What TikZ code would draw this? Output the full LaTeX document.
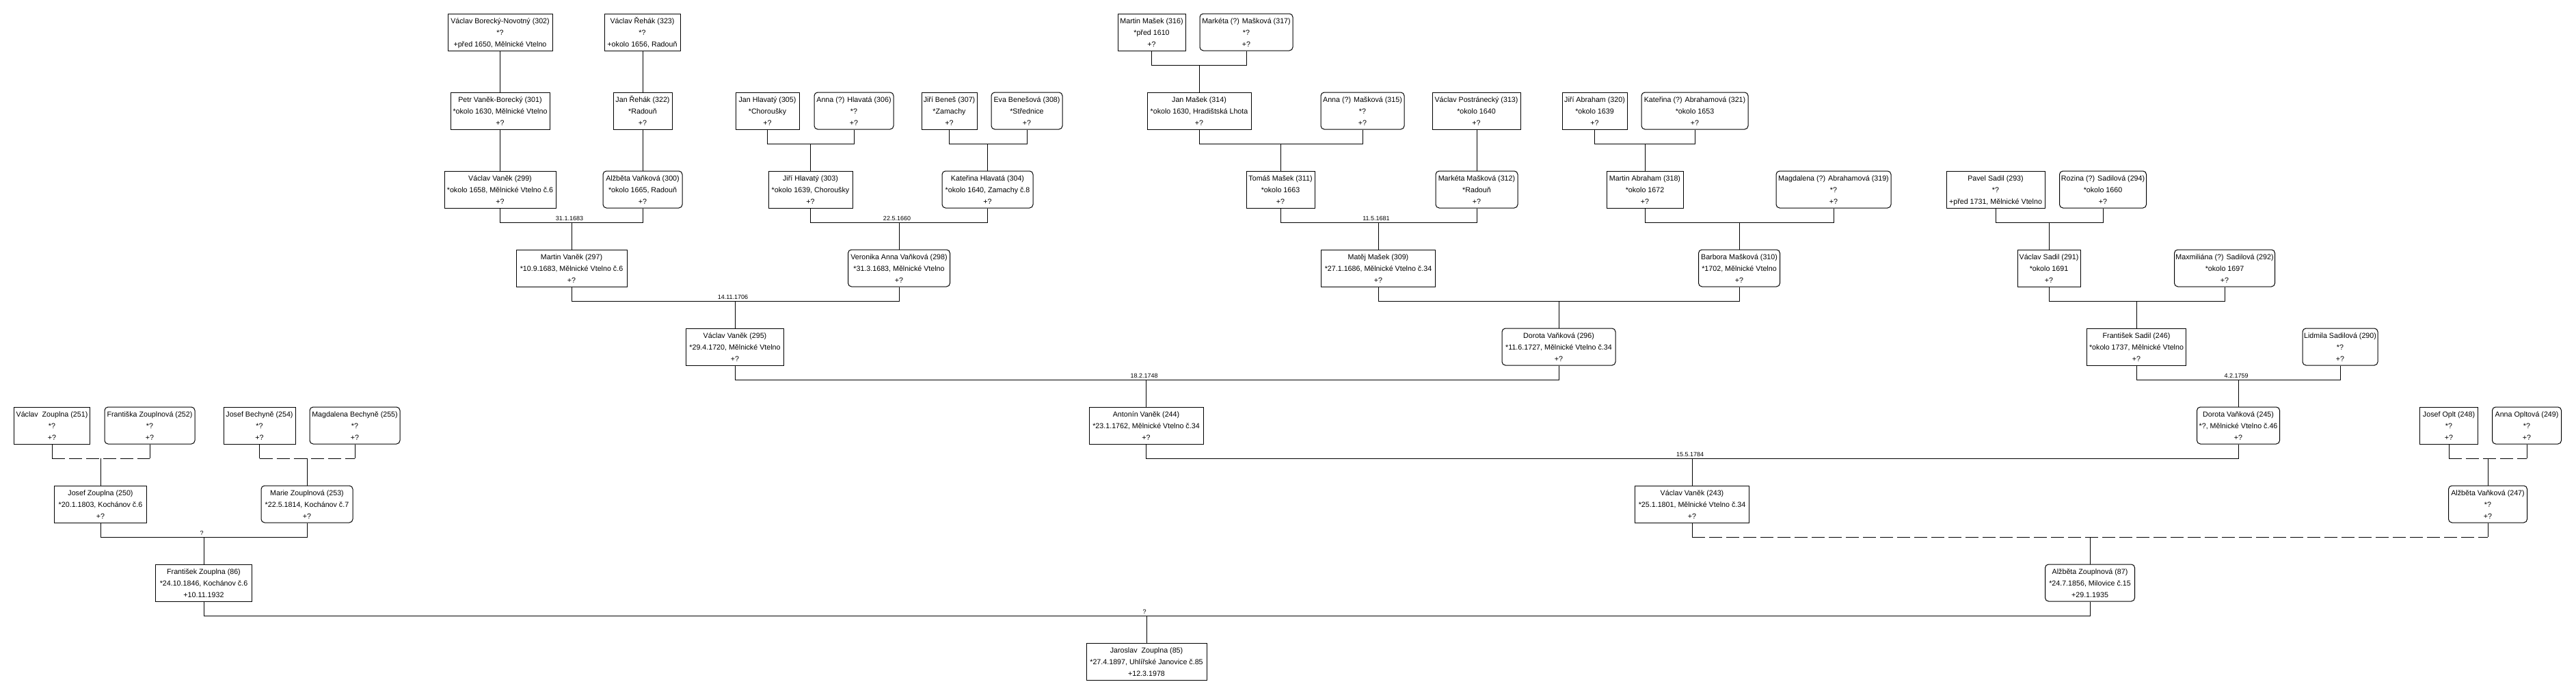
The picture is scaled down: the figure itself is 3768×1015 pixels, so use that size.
\documentclass[tikz,border=0pt]{standalone}
\usepackage{fontspec}
\setmainfont{Liberation Sans}
\newcommand\pers[3]{\rule{0pt}{11.5pt}#1\\#2\\#3\rule[-3pt]{0pt}{3pt}}
\tikzset{
  box/.style={draw, line width=1pt, minimum height=54pt, inner sep=0pt, align=center,
    font=\fontsize{10.7pt}{17pt}\selectfont},
  male/.style={box},
  female/.style={box, rounded corners=5pt},
  conn/.style={line width=1pt},
  unk/.style={line width=1pt, dash pattern=on 19pt off 6pt},
  lbl/.style={font=\fontsize{9pt}{10pt}\selectfont, anchor=base, inner sep=0pt, yshift=2.5pt, xshift=-3pt}
}
% solid couple
\newcommand\couple[4]{%
  \draw[conn] (#1.south) -- (#1.south |- #4) -- (#2.south |- #4) -- (#2.south);
  \draw[conn] (#3.north) -- (#3.north |- #4);}
% couple with unknown marriage: solid verticals, dashed horizontal
\newcommand\ucouple[4]{%
  \draw[conn] (#1.south) -- (#1.south |- #4);
  \draw[conn] (#2.south) -- (#2.south |- #4);
  \draw[unk] (#1.south |- #4) -- (#2.south |- #4);
  \draw[conn] (#3.north) -- (#3.north |- #4);}
\newcommand\single[2]{\draw[conn] (#2.north) -- (#2.north |- #1.south);}
\begin{document}
\begin{tikzpicture}[x=1pt, y=-1pt]
\useasboundingbox[fill=white] (0,0) rectangle (3768,1015);
% join rows
\coordinate (j95) at (0,95);
\coordinate (j210) at (0,210);
\coordinate (j325) at (0,325);
\coordinate (j440) at (0,440);
\coordinate (j555) at (0,555);
\coordinate (j670) at (0,670);
\coordinate (j785) at (0,785);
\coordinate (j900) at (0,900);
% Row A
\node[male, minimum width=153pt] (n302) at (731.5,47) {\pers{Václav Borecký-Novotný (302)}{*?}{+před 1650, Mělnické Vtelno}};
\node[male, minimum width=111pt] (n323) at (939.5,47) {\pers{Václav Řehák (323)}{*?}{+okolo 1656, Radouň}};
\node[male, minimum width=99pt] (n316) at (1684.5,47) {\pers{Martin Mašek (316)}{*před 1610}{+?}};
\node[female, minimum width=136pt] (n317) at (1823,47) {\pers{Markéta (?) Mašková (317)}{*?}{+?}};
% Row B
\node[male, minimum width=145pt] (n301) at (731.5,162) {\pers{Petr Vaněk-Borecký (301)}{*okolo 1630, Mělnické Vtelno}{+?}};
\node[male, minimum width=86pt] (n322) at (940,162) {\pers{Jan Řehák (322)}{*Radouň}{+?}};
\node[male, minimum width=93pt] (n305) at (1122.5,162) {\pers{Jan Hlavatý (305)}{*Choroušky}{+?}};
\node[female, minimum width=116pt] (n306) at (1249,162) {\pers{Anna (?) Hlavatá (306)}{*?}{+?}};
\node[male, minimum width=81pt] (n307) at (1388.5,162) {\pers{Jiří Beneš (307)}{*Zamachy}{+?}};
\node[female, minimum width=104pt] (n308) at (1502,162) {\pers{Eva Benešová (308)}{*Střednice}{+?}};
\node[male, minimum width=152pt] (n314) at (1754,162) {\pers{Jan Mašek (314)}{*okolo 1630, Hradištská Lhota}{+?}};
\node[female, minimum width=122pt] (n315) at (1993,162) {\pers{Anna (?) Mašková (315)}{*?}{+?}};
\node[male, minimum width=129pt] (n313) at (2159.5,162) {\pers{Václav Postránecký (313)}{*okolo 1640}{+?}};
\node[male, minimum width=95pt] (n320) at (2332.5,162) {\pers{Jiří Abraham (320)}{*okolo 1639}{+?}};
\node[female, minimum width=156pt] (n321) at (2479,162) {\pers{Kateřina (?) Abrahamová (321)}{*okolo 1653}{+?}};
% Row C
\node[male, minimum width=163pt] (n299) at (731.5,277) {\pers{Václav Vaněk (299)}{*okolo 1658, Mělnické Vtelno č.6}{+?}};
\node[female, minimum width=116pt] (n300) at (940,277) {\pers{Alžběta Vaňková (300)}{*okolo 1665, Radouň}{+?}};
\node[male, minimum width=123pt] (n303) at (1185.5,277) {\pers{Jiří Hlavatý (303)}{*okolo 1639, Choroušky}{+?}};
\node[female, minimum width=133pt] (n304) at (1444.5,277) {\pers{Kateřina Hlavatá (304)}{*okolo 1640, Zamachy č.8}{+?}};
\node[male, minimum width=100pt] (n311) at (1873,277) {\pers{Tomáš Mašek (311)}{*okolo 1663}{+?}};
\node[female, minimum width=120pt] (n312) at (2160,277) {\pers{Markéta Mašková (312)}{*Radouň}{+?}};
\node[male, minimum width=112pt] (n318) at (2406,277) {\pers{Martin Abraham (318)}{*okolo 1672}{+?}};
\node[female, minimum width=168pt] (n319) at (2682,277) {\pers{Magdalena (?) Abrahamová (319)}{*?}{+?}};
\node[male, minimum width=144pt] (n293) at (2919,277) {\pers{Pavel Sadil (293)}{*?}{+před 1731, Mělnické Vtelno}};
\node[female, minimum width=127pt] (n294) at (3076,277) {\pers{Rozina (?) Sadilová (294)}{*okolo 1660}{+?}};
% Row D
\node[male, minimum width=162pt] (n297) at (836,392) {\pers{Martin Vaněk (297)}{*10.9.1683, Mělnické Vtelno č.6}{+?}};
\node[female, minimum width=149pt] (n298) at (1315,392) {\pers{Veronika Anna Vaňková (298)}{*31.3.1683, Mělnické Vtelno}{+?}};
\node[male, minimum width=167pt] (n309) at (2016,392) {\pers{Matěj Mašek (309)}{*27.1.1686, Mělnické Vtelno č.34}{+?}};
\node[female, minimum width=119pt] (n310) at (2544,392) {\pers{Barbora Mašková (310)}{*1702, Mělnické Vtelno}{+?}};
\node[male, minimum width=92pt] (n291) at (2997,392) {\pers{Václav Sadil (291)}{*okolo 1691}{+?}};
\node[female, minimum width=147pt] (n292) at (3254,392) {\pers{Maxmiliána (?) Sadilová (292)}{*okolo 1697}{+?}};
% Row E
\node[male, minimum width=143pt] (n295) at (1075,507) {\pers{Václav Vaněk (295)}{*29.4.1720, Mělnické Vtelno}{+?}};
\node[female, minimum width=166pt] (n296) at (2280,507) {\pers{Dorota Vaňková (296)}{*11.6.1727, Mělnické Vtelno č.34}{+?}};
\node[male, minimum width=145pt] (n246) at (3125,507) {\pers{František Sadil (246)}{*okolo 1737, Mělnické Vtelno}{+?}};
\node[female, minimum width=110pt] (n290) at (3423,507) {\pers{Lidmila Sadilová (290)}{*?}{+?}};
% Row F
\node[male, minimum width=111pt] (n251) at (76,622) {\pers{Václav\ \ Zouplna (251)}{*?}{+?}};
\node[female, minimum width=132pt] (n252) at (219,622) {\pers{Františka Zouplnová (252)}{*?}{+?}};
\node[male, minimum width=105pt] (n254) at (379.5,622) {\pers{Josef Bechyně (254)}{*?}{+?}};
\node[female, minimum width=132pt] (n255) at (519,622) {\pers{Magdalena Bechyně (255)}{*?}{+?}};
\node[male, minimum width=167pt] (n244) at (1676.5,622) {\pers{Antonín Vaněk (244)}{*23.1.1762, Mělnické Vtelno č.34}{+?}};
\node[female, minimum width=121pt] (n245) at (3274,622) {\pers{Dorota Vaňková (245)}{*?, Mělnické Vtelno č.46}{+?}};
\node[male, minimum width=85pt] (n248) at (3582,622) {\pers{Josef Oplt (248)}{*?}{+?}};
\node[female, minimum width=101pt] (n249) at (3696,622) {\pers{Anna Opltová (249)}{*?}{+?}};
% Row G
\node[male, minimum width=135pt] (n250) at (147,737) {\pers{Josef Zouplna (250)}{*20.1.1803, Kochánov č.6}{+?}};
\node[female, minimum width=134pt] (n253) at (449,737) {\pers{Marie Zouplnová (253)}{*22.5.1814, Kochánov č.7}{+?}};
\node[male, minimum width=167pt] (n243) at (2475,737) {\pers{Václav Vaněk (243)}{*25.1.1801, Mělnické Vtelno č.34}{+?}};
\node[female, minimum width=115pt] (n247) at (3639,737) {\pers{Alžběta Vaňková (247)}{*?}{+?}};
% Row H
\node[male, minimum width=141pt] (n86) at (298,852) {\pers{František Zouplna (86)}{*24.10.1846, Kochánov č.6}{+10.11.1932}};
\node[female, minimum width=131pt] (n87) at (3057,852) {\pers{Alžběta Zouplnová (87)}{*24.7.1856, Milovice č.15}{+29.1.1935}};
% Row I
\node[male, minimum width=176pt] (n85) at (1677,967) {\pers{Jaroslav\ \ Zouplna (85)}{*27.4.1897, Uhlířské Janovice č.85}{+12.3.1978}};

% single-parent lines
\single{n302}{n301}
\single{n301}{n299}
\single{n323}{n322}
\single{n322}{n300}
\single{n313}{n312}
% couples
\couple{n316}{n317}{n314}{j95}
\couple{n305}{n306}{n303}{j210}
\couple{n307}{n308}{n304}{j210}
\couple{n314}{n315}{n311}{j210}
\couple{n320}{n321}{n318}{j210}
\couple{n299}{n300}{n297}{j325}
\couple{n303}{n304}{n298}{j325}
\couple{n311}{n312}{n309}{j325}
\couple{n318}{n319}{n310}{j325}
\couple{n293}{n294}{n291}{j325}
\couple{n297}{n298}{n295}{j440}
\couple{n309}{n310}{n296}{j440}
\couple{n291}{n292}{n246}{j440}
\couple{n295}{n296}{n244}{j555}
\couple{n246}{n290}{n245}{j555}
\ucouple{n251}{n252}{n250}{j670}
\ucouple{n254}{n255}{n253}{j670}
\couple{n244}{n245}{n243}{j670}
\ucouple{n248}{n249}{n247}{j670}
\couple{n250}{n253}{n86}{j785}
\ucouple{n243}{n247}{n87}{j785}
\couple{n86}{n87}{n85}{j900}
% marriage labels
\path (n297.north |- j325) node[lbl] (m297) {31.1.1683};
\path (n298.north |- j325) node[lbl] (m298) {22.5.1660};
\path (n309.north |- j325) node[lbl] (m309) {11.5.1681};
\path (n295.north |- j440) node[lbl] (m295) {14.11.1706};
\path (n244.north |- j555) node[lbl] (m244) {18.2.1748};
\path (n245.north |- j555) node[lbl] (m245) {4.2.1759};
\path (n243.north |- j670) node[lbl] (m243) {15.5.1784};
\path (n86.north |- j785) node[lbl] (m86) {?};
\path (n85.north |- j900) node[lbl] (m85) {?};
\end{tikzpicture}
\end{document}
